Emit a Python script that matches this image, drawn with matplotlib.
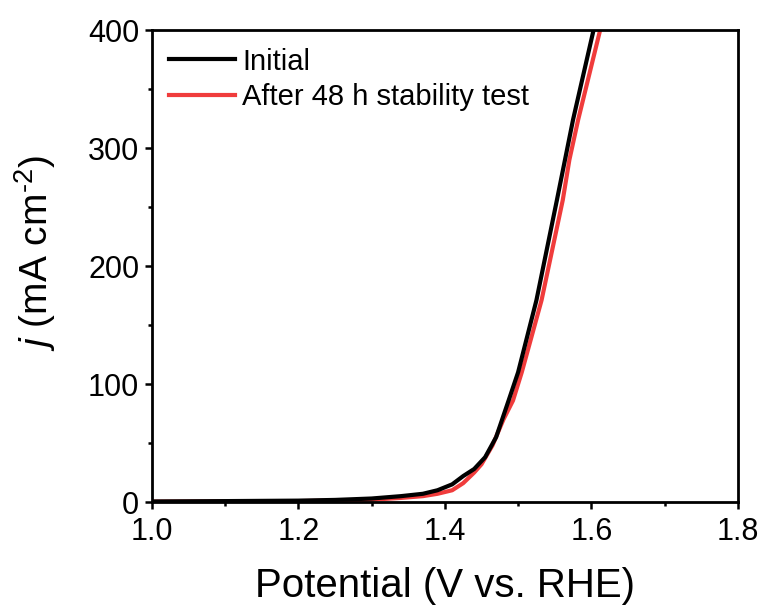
import numpy as np
import matplotlib
matplotlib.use("Agg")
import matplotlib.pyplot as plt
from matplotlib.ticker import MultipleLocator, FormatStrFormatter

plt.rcParams['font.family'] = ['Liberation Sans', 'DejaVu Sans']
plt.rcParams['mathtext.fontset'] = 'custom'
plt.rcParams['mathtext.rm'] = 'Liberation Sans'
plt.rcParams['mathtext.it'] = 'Liberation Sans:italic'

# LSV curves (V vs. RHE, mA cm-2)
initial_v = [1.00, 1.10, 1.20, 1.25, 1.30, 1.34, 1.37, 1.39, 1.41, 1.425, 1.44,
             1.455, 1.47, 1.487, 1.50, 1.525, 1.553, 1.575, 1.603, 1.610]
initial_j = [0.5, 0.8, 1.2, 1.8, 3.0, 5.0, 7.0, 10.0, 15.0, 22.0, 28.0,
             38.0, 55.0, 86.0, 110.0, 171.0, 256.0, 324.0, 400.0, 418.0]

after_v = [1.00, 1.10, 1.20, 1.25, 1.30, 1.34, 1.37, 1.39, 1.41, 1.425, 1.44,
           1.45, 1.465, 1.48, 1.493, 1.505, 1.532, 1.561, 1.570, 1.582, 1.612, 1.620]
after_j = [0.3, 0.5, 0.8, 1.2, 2.0, 3.5, 5.0, 7.0, 10.0, 16.0, 25.0,
           32.0, 48.0, 70.0, 86.0, 110.0, 171.0, 256.0, 290.0, 324.0, 400.0, 420.0]

labels = ["Initial", "After 48 h stability test"]
colors = ["black", "#f03c3c"]

fig = plt.figure(figsize=(7.67, 6.13), dpi=100)
ax = fig.add_axes([0.198, 0.181, 0.764, 0.770])

ax.plot(after_v, after_j, color=colors[1], lw=3, label=labels[1], zorder=2)
ax.plot(initial_v, initial_j, color=colors[0], lw=3, label=labels[0], zorder=3)

ax.set_xlim(1.0, 1.8)
ax.set_ylim(0, 400)
ax.xaxis.set_major_locator(MultipleLocator(0.2))
ax.xaxis.set_minor_locator(MultipleLocator(0.1))
ax.yaxis.set_major_locator(MultipleLocator(100))
ax.yaxis.set_minor_locator(MultipleLocator(50))
ax.xaxis.set_major_formatter(FormatStrFormatter('%.1f'))

for s in ax.spines.values():
    s.set_linewidth(2.0)
ax.tick_params(which='major', direction='out', length=5, width=1.8, labelsize=22, pad=4)
ax.tick_params(axis='x', which='major', pad=6)
ax.tick_params(which='minor', direction='out', length=3, width=1.8)
ax.tick_params(top=False, right=False)

ax.set_xlabel("Potential (V vs. RHE)", fontsize=29, labelpad=14)
ax.set_ylabel(r"$j$ (mA cm$^{\text{-2}}$)", fontsize=28)
ax.yaxis.set_label_coords(-0.16, 0.527)

handles, labs = ax.get_legend_handles_labels()
order = [1, 0]
ax.legend([handles[i] for i in order], [labs[i] for i in order], loc='upper left',
          frameon=False, fontsize=21, handlelength=2.25, handletextpad=0.25,
          labelspacing=0.25, borderaxespad=0.3, borderpad=0.3)

fig.savefig("out.png", dpi=100)
